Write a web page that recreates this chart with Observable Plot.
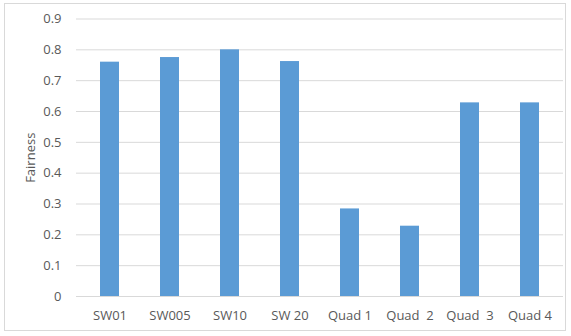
<!DOCTYPE html>
<html>
<head>
<meta charset="utf-8">
<script src="https://cdn.jsdelivr.net/npm/d3@7"></script>
<script src="https://cdn.jsdelivr.net/npm/@observablehq/plot@0.6"></script>
<style>
  html, body { margin: 0; padding: 0; background: #fff; }
  #chart { position: relative; width: 571px; height: 336px; }
  #frame { position: absolute; left: 4px; top: 3px; width: 562px; height: 328px; border: 1px solid #d9d9d9; box-sizing: border-box; pointer-events: none; }
</style>
</head>
<body>
<div id="chart"><div id="frame"></div></div>
<script>
const categories = ["SW01", "SW005", "SW10", "SW 20", "Quad 1", "Quad  2", "Quad  3", "Quad 4"];
const fairness = [0.760, 0.775, 0.800, 0.762, 0.284, 0.228, 0.628, 0.628];
const yTicks = [0, 0.1, 0.2, 0.3, 0.4, 0.5, 0.6, 0.7, 0.8, 0.9];

const data = categories.map((c, i) => ({category: c, value: fairness[i]}));

const font = "'Open Sans', 'Liberation Sans', sans-serif";

const plot = Plot.plot({
  width: 571,
  height: 336,
  marginLeft: 76,
  marginRight: 8,
  marginTop: 18.5,
  marginBottom: 40,
  style: {fontFamily: font, fontSize: "13px", color: "#595959", background: "transparent"},
  x: {domain: categories, paddingInner: 0.68, paddingOuter: 0.34, label: null},
  y: {domain: [0, 0.9], label: null},
  marks: [
    Plot.gridY(yTicks, {stroke: "#d9d9d9", strokeOpacity: 1, strokeWidth: 1}),
    Plot.barY(data, {x: "category", y: "value", fill: "#5b9bd5"}),
    Plot.ruleY([0], {stroke: "#d9d9d9", strokeWidth: 1}),
    Plot.axisY(yTicks, {
      tickSize: 0, tickPadding: 15, tickFormat: d => String(d),
      label: "Fairness", labelAnchor: "center", labelArrow: "none", labelOffset: 51,
      fill: "#595959"
    }),
    Plot.axisX({tickSize: 0, tickPadding: 14, label: null, fill: "#595959"})
  ]
});
document.getElementById("chart").prepend(plot);
plot.style.position = "absolute";
plot.style.left = "0";
plot.style.top = "0";
</script>
</body>
</html>
